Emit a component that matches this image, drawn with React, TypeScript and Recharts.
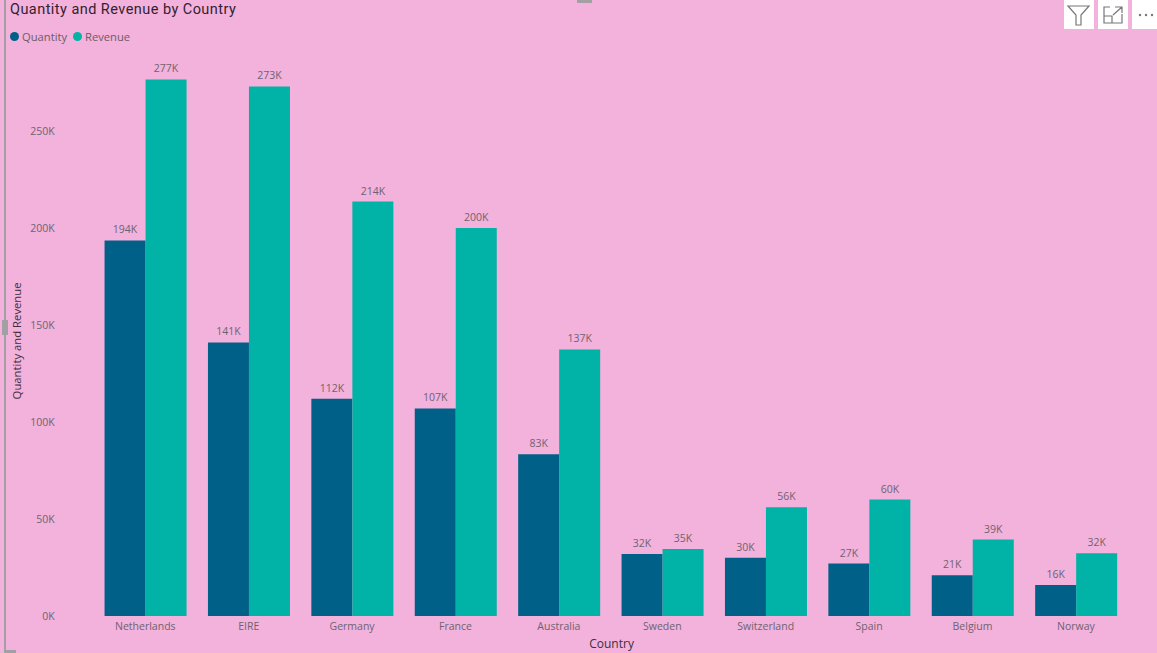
import { BarChart, Bar, XAxis, YAxis, LabelList, Legend } from 'recharts';

const countries = ['Netherlands', 'EIRE', 'Germany', 'France', 'Australia', 'Sweden', 'Switzerland', 'Spain', 'Belgium', 'Norway'];
const quantity = [193600, 141000, 112000, 107000, 83400, 32000, 30000, 27000, 21000, 16000];
const revenue = [276600, 273000, 213600, 200000, 137400, 34600, 56000, 60000, 39400, 32400];
const yTicks = [0, 50000, 100000, 150000, 200000, 250000];

const data = countries.map((country, i) => ({
  country,
  Quantity: quantity[i],
  Revenue: revenue[i],
}));

const PINK = '#f2b2db';
const TEAL = '#01b2a6';
const NAVY = '#016087';
const FONT = '"Open Sans", "Noto Sans", sans-serif';
const LABEL_GREY = '#6f6270';
const kFormat = (v: any) => `${Math.round(Number(v) / 1000)}K`;

const ChartLegend = ({ payload }: any) => (
  <div style={{ display: 'flex', alignItems: 'center', fontFamily: FONT, fontSize: 11.2, color: '#6b5c68', whiteSpace: 'nowrap' }}>
    {(payload || []).map((entry: any) => (
      <span key={entry.value} style={{ display: 'flex', alignItems: 'center', marginRight: 6 }}>
        <span style={{ width: 9, height: 9, borderRadius: '50%', backgroundColor: entry.color, marginRight: 3 }} />
        {entry.value}
      </span>
    ))}
  </div>
);

const IconBox = ({ left, children }: any) => (
  <div style={{ position: 'absolute', left, top: 0, width: 30, height: 29, backgroundColor: '#fff' }}>
    <svg width={30} height={29} fill="none" stroke="#777" strokeWidth={1.2}>{children}</svg>
  </div>
);

export default function App() {
  return (
    <div style={{ position: 'fixed', left: 0, top: 0, width: 1157, height: 653, backgroundColor: PINK, overflow: 'hidden' }}>
      <div style={{ position: 'absolute', left: 4, top: 0, width: 2, height: 653, backgroundColor: '#a3a0a3' }} />
      <div style={{ position: 'absolute', left: 2, top: 320, width: 6, height: 15, backgroundColor: '#a3a0a3' }} />
      <div style={{ position: 'absolute', left: 577, top: 0, width: 15, height: 3, backgroundColor: '#a3a0a3' }} />
      <div style={{ position: 'absolute', left: 4, top: 650, width: 12, height: 3, backgroundColor: '#a3a0a3' }} />
      <div style={{ position: 'absolute', left: 10, top: 1, fontFamily: 'Roboto, sans-serif', fontSize: 14.5, letterSpacing: 0.45, lineHeight: '18px', color: '#33222f' }}>
        Quantity and Revenue by Country
      </div>
      <div style={{ position: 'absolute', left: 0, top: 0 }}>
        <BarChart
          width={1157}
          height={653}
          data={data}
          margin={{ top: 72.8, right: 29.4, bottom: 0, left: 13.6 }}
          barCategoryGap="10.6%"
          barGap={0}
        >
          <XAxis
            dataKey="country"
            axisLine={false}
            tickLine={false}
            interval={0}
            height={37}
            tickMargin={1}
            tick={{ fontSize: 10.5, fill: LABEL_GREY, fontFamily: FONT }}
            label={{ value: 'Country', position: 'insideBottom', dy: 0, dx: 1, fontSize: 12, fill: '#3f2e3b', fontFamily: FONT }}
          />
          <YAxis
            width={80}
            domain={[0, 280000]}
            ticks={yTicks}
            axisLine={false}
            tickLine={false}
            tickSize={0}
            tickMargin={38.8}
            tickFormatter={kFormat}
            tick={{ fontSize: 10.5, fill: LABEL_GREY, fontFamily: FONT }}
            label={{ value: 'Quantity and Revenue', angle: -90, position: 'insideLeft', dx: -2, dy: 55, fontSize: 11.3, fill: '#3f2e3b', fontFamily: FONT }}
          />
          <Legend
            content={<ChartLegend />}
            verticalAlign="top"
            wrapperStyle={{ top: 29, left: 10, width: 220, height: 0 }}
          />
          <Bar dataKey="Quantity" fill={NAVY} isAnimationActive={false}>
            <LabelList dataKey="Quantity" position="top" offset={7} formatter={kFormat} style={{ fontSize: 10.5, fill: LABEL_GREY, fontFamily: FONT }} />
          </Bar>
          <Bar dataKey="Revenue" fill={TEAL} isAnimationActive={false}>
            <LabelList dataKey="Revenue" position="top" offset={7} formatter={kFormat} style={{ fontSize: 10.5, fill: LABEL_GREY, fontFamily: FONT }} />
          </Bar>
        </BarChart>
      </div>
      <IconBox left={1064}>
        <path d="M4 6 H25 L17 15 V25 H12 V15 Z" />
      </IconBox>
      <IconBox left={1098}>
        <path d="M12 7 H6 V23 H24 V14 M6 16 H14 V23 M17 7 H24 V13 M24 7 L15 15" />
      </IconBox>
      <IconBox left={1132}>
        <g fill="#777" stroke="none">
          <circle cx={8} cy={15} r={1.2} />
          <circle cx={14} cy={15} r={1.2} />
          <circle cx={20} cy={15} r={1.2} />
        </g>
      </IconBox>
    </div>
  );
}
